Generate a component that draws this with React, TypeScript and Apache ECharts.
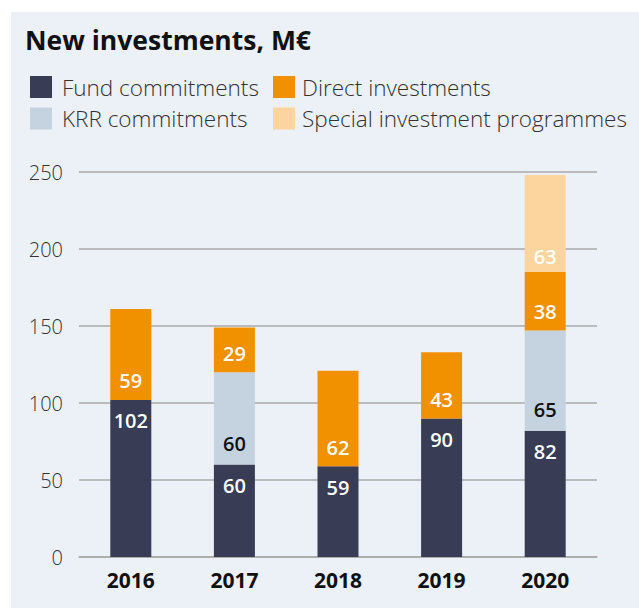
import React, { useEffect, useRef } from "react";
import * as echarts from "echarts";

const years = ["2016", "2017", "2018", "2019", "2020"];
const fundCommitments = [102, 60, 59, 90, 82];
const krrCommitments = [null, 60, null, null, 65];
const directInvestments = [59, 29, 62, 43, 38];
const specialProgrammes = [null, null, null, null, 63];
const yTicks = [0, 50, 100, 150, 200, 250];

const FONT = "'Open Sans', 'Noto Sans', sans-serif";

export default function App() {
  const ref = useRef<HTMLDivElement>(null);
  useEffect(() => {
    const chart = echarts.init(ref.current!, null, { renderer: "svg" });
    const labelBase = {
      show: true,
      fontFamily: FONT,
      fontSize: 20,
      fontWeight: 600,
    };
    const mk = (name: string, data: any[], color: string, labelColor: string, pos: string, dist: number) => ({
      name,
      type: "bar",
      stack: "total",
      barWidth: 41,
      data,
      itemStyle: { color },
      label: { ...labelBase, color: labelColor, position: pos, distance: dist },
    });
    const legendText = (pad: number) => ({
      fontFamily: FONT,
      fontSize: 22.5,
      fontWeight: 300,
      color: "#333",
      padding: [0, 0, 0, pad],
    });
    chart.setOption({
      animation: false,
      textStyle: { fontFamily: FONT },
      graphic: [
        {
          type: "rect",
          shape: { x: 11, y: 12, width: 628, height: 596 },
          style: { fill: "#ecf0f7" },
          z: -10,
          silent: true,
        },
      ],
      title: {
        text: "New investments, M€",
        left: 20,
        top: 21,
        textStyle: { fontFamily: FONT, fontSize: 26.5, fontWeight: 700, color: "#111" },
      },
      legend: [
        {
          orient: "vertical",
          left: 25,
          top: 70.5,
          itemWidth: 22,
          itemHeight: 22,
          itemGap: 8.5,
          icon: "rect",
          data: ["Fund commitments", "KRR commitments"],
          textStyle: legendText(5),
        },
        {
          orient: "vertical",
          left: 268,
          top: 70.5,
          itemWidth: 22,
          itemHeight: 22,
          itemGap: 8.5,
          icon: "rect",
          data: ["Direct investments", "Special investment programmes"],
          textStyle: legendText(2),
        },
      ],
      grid: { left: 79, right: 42, top: 172, bottom: 51, containLabel: false },
      xAxis: {
        type: "category",
        data: years,
        axisLine: { show: true, lineStyle: { color: "#aaaaaa", width: 1.5 } },
        axisTick: { show: false },
        axisLabel: { fontFamily: FONT, fontSize: 21, fontWeight: 700, color: "#111", margin: 12 },
      },
      yAxis: {
        type: "value",
        min: yTicks[0],
        max: yTicks[yTicks.length - 1],
        interval: 50,
        axisLine: { show: false },
        axisTick: { show: false },
        splitLine: { lineStyle: { color: "#aaaaaa", width: 1.5 } },
        axisLabel: { fontFamily: FONT, fontSize: 20, fontWeight: 300, color: "#333", margin: 16 },
      },
      series: [
        mk("Fund commitments", fundCommitments, "#383d55", "#ffffff", "insideTop", 11),
        mk("KRR commitments", krrCommitments, "#c5d3e0", "#111111", "insideBottom", 11),
        mk("Direct investments", directInvestments, "#f29100", "#ffffff", "insideBottom", 9),
        mk("Special investment programmes", specialProgrammes, "#fcd49e", "#ffffff", "insideBottom", 6),
      ],
    });
    return () => chart.dispose();
  }, []);
  return (
    <div
      ref={ref}
      style={{ position: "fixed", left: 0, top: 0, width: 639, height: 608, background: "#ffffff" }}
    />
  );
}
